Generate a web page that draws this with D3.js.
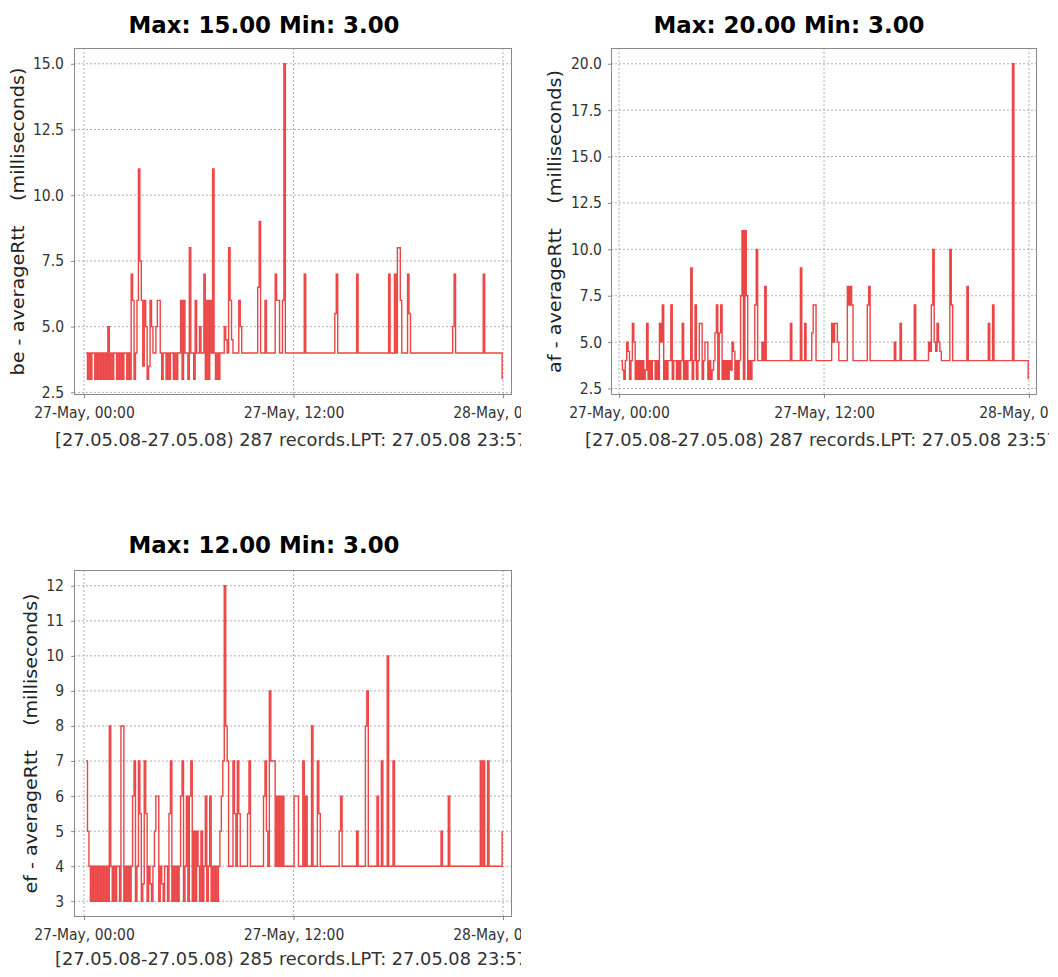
<!DOCTYPE html>
<html>
<head>
<meta charset="utf-8">
<script src="https://cdn.jsdelivr.net/npm/d3@7/dist/d3.min.js"></script>
<style>
  body { margin: 0; background: #ffffff; }
  .tick-label { font-family: "DejaVu Sans Condensed", "DejaVu Sans", sans-serif; font-stretch: condensed; font-size: 15.5px; fill: #333; }
</style>
</head>
<body>
<svg id="chart" width="1058" height="977"></svg>
<script>
// ---------------- DATA ----------------
// 5-minute samples on 27 May 2008, first sample at 00:07, last at 23:57
const seriesStart = "2008-05-27T00:07";
const sampleMinutes = 5;

// be - averageRtt (ms)
const beValues = [
  4,3,4,3,4,4,3,4,3,4,3,4,
  3,4,3,5,3,4,3,4,4,3,4,3,
  4,3,4,4,3,4,3,7,6,3,4,6,
  11,7.5,6,3.5,6,5,3,3.5,6,5,4,4,
  5,6,6,4,3,4,4,3,4,3,4,4,
  3,4,3,4,4,6,3,6,4,4,3,8,
  4,4,3,6,4,4,5,4,4,7,3,6,
  3,6,4,11,4,3,4,3,4,4,4,5,
  4.5,4,8,6,4.5,4,4,4,4,6,5,4,
  4,4,4,4,4,4,4,4,4,4,6.5,9,
  4,4,4,6,4,4,4,4,4,4,7,6,
  6,4,4,6,15,4,4,4,4,4,4,4,
  4,4,4,4,4,4,7,4,4,4,4,4,
  4,4,4,4,4,4,4,4,4,4,4,4,
  4,4,4,5.5,7,4,4,4,4,4,4,4,
  4,4,4,4,4,4,7,4,4,4,4,4,
  4,4,4,4,4,4,4,4,4,4,4,4,
  4,4,4,4,7,4,4,4,7,4,8,8,
  6,4,4,4,4,7,5.5,4,4,4,4,4,
  4,4,4,4,4,4,4,4,4,4,4,4,
  4,4,4,4,4,4,4,4,4,4,4,4,
  5,7,4,4,4,4,4,4,4,4,4,4,
  4,4,4,4,4,4,4,4,4,7,4,4,
  4,4,4,4,4,4,4,4,4,4,3
];

// af - averageRtt (ms)
const afValues = [
  4,3.5,3,4,5,4.5,3,4,6,5,3,4,
  3,4,3,4,3,3.5,6,3,4,3,4,4,
  3,4,3,6,5,7,3,4,3,4,4,7,
  3,4,4,3,4,3,4,6,3,4,3,4,
  4,9,3,4,7,3,4,6,6,3,4,5,
  5,3,4,3,3.5,4,5.5,7,3,5.5,7,3,
  4,3,4,3,4,3.5,5,4.5,3,4,3,4,
  7.5,11,3,11,7.5,3,4,3,4,4,7,10,
  4,4,4,5,4,8,4,4,4,4,4,4,
  4,4,4,4,4,4,4,4,4,4,4,6,
  4,4,4,4,4,4,9,4,4,6,4,4,
  4,4,5.5,7,7,4,4,4,4,4,4,4,
  4,4,4,4,6,5,6,6,5,4,4,4,
  4,4,4,8,7,8,7,4,4,4,4,4,
  4,4,4,4,4,7,8,4,4,4,4,4,
  4,4,4,4,4,4,4,4,4,4,4,4,
  5,4,4,4,6,4,4,4,4,4,4,4,
  4,4,7,4,4,4,4,4,4,4,4,4,
  5,4.5,7,10,5,4.5,6,5,4.5,4,4,4,
  4,4,4,10,7,4,4,4,4,4,4,4,
  4,4,4,8,4,4,4,4,4,4,4,4,
  4,4,4,4,4,4,6,4,4,7,4,4,
  4,4,4,4,4,4,4,4,4,4,4,20,
  4,4,4,4,4,4,4,4,4,4,3
];

// ef - averageRtt (ms)
const efValues = [
  7,5,4,3,4,3,4,3,4,3,4,3,
  4,3,4,3,8,4,3,4,3,4,4,3,
  8,8,3,4,3,4,3,4,6,7,3,4,
  7,5.5,3,3.5,7,5.5,3,4,3.5,3,4,5,
  6,6,3,4,3.5,3,4,4,3,5.5,7,3,
  4,3,4,3,4,6,7,3,4,6,3,6,
  7,3,5,3,5,4,3,5,3,4,6,3,
  4,6,3,4,3,4,3,4,5,6,7,12,
  8,7,4,4,4,7,5.5,4,7,5.5,4,4,
  4,4,4,5.5,7,4,4,4,4,4,4,4,
  4,4,6,7,5,4,9,7,7,7,4,6,
  4,6,4,6,4,4,4,4,4,4,4,6,
  6,6,4,4,4,7,4,6,4,4,4,8,
  4,4,4,7,5.5,4,4,4,4,4,4,4,
  4,4,4,4,4,4,5,6,4,4,4,4,
  4,4,4,4,4,4,5,4,4,4,4,4,
  8,9,4,4,4,4,4,4,6,4,4,7,
  4,4,4,10,4,4,4,7,4,4,4,4,
  4,4,4,4,4,4,4,4,4,4,4,4,
  4,4,4,4,4,4,4,4,4,4,4,4,
  4,4,4,4,5,4,4,4,4,6,4,4,
  4,4,4,4,4,4,4,4,4,4,4,4,
  4,4,4,4,4,4,4,7,4,7,4,4,
  7,4,4,4,4,4,4,4,4,4,5
];

const beTicks = [2.5, 5.0, 7.5, 10.0, 12.5, 15.0];
const afTicks = [2.5, 5.0, 7.5, 10.0, 12.5, 15.0, 17.5, 20.0];
const efTicks = [3, 4, 5, 6, 7, 8, 9, 10, 11, 12];
const xTickTimes = ["2008-05-27T00:00", "2008-05-27T12:00", "2008-05-28T00:00"];

const titles = ["Max: 15.00 Min: 3.00", "Max: 20.00 Min: 3.00", "Max: 12.00 Min: 3.00"];
const axisTitles = ["be - averageRtt    (milliseconds)", "af - averageRtt    (milliseconds)", "ef - averageRtt    (milliseconds)"];
const subtitles = [
  "[27.05.08-27.05.08) 287 records.LPT: 27.05.08 23:57",
  "[27.05.08-27.05.08) 287 records.LPT: 27.05.08 23:57",
  "[27.05.08-27.05.08) 285 records.LPT: 27.05.08 23:57"
];

// ---------------- DRAWING ----------------
const parseT = d3.timeParse("%Y-%m-%dT%H:%M");
const t0 = parseT(seriesStart);
const xTicks = xTickTimes.map(parseT);
const toPoints = vals => vals.map((v, i) => ({ t: d3.timeMinute.offset(t0, i * sampleMinutes), v }));

const panels = [
  { values: beValues, ticks: beTicks, fmt: d3.format(".1f"), title: titles[0], axisTitle: axisTitles[0], sub: subtitles[0],
    plot: { l: 74, t: 48, r: 512, b: 395 }, xr: [84, 503], yd: [2.4, 15.6],
    tickPad: 7, titleX: 264, titleY: 33, axisX: 24, axisLen: 308, subX: 55, subY: 446, clip: [0, 521] },
  { values: afValues, ticks: afTicks, fmt: d3.format(".1f"), title: titles[1], axisTitle: axisTitles[1], sub: subtitles[1],
    plot: { l: 611, t: 48, r: 1037, b: 395 }, xr: [619, 1029], yd: [2.15, 20.85],
    tickPad: 6, titleX: 789, titleY: 33, axisX: 561, axisLen: 303, subX: 585, subY: 446, clip: [530, 1049] },
  { values: efValues, ticks: efTicks, fmt: d3.format("d"), title: titles[2], axisTitle: axisTitles[2], sub: subtitles[2],
    plot: { l: 74, t: 570, r: 512, b: 917 }, xr: [84, 503], yd: [2.55, 12.45],
    tickPad: 7, titleX: 264, titleY: 553, axisX: 37, axisLen: 300, subX: 55, subY: 965, clip: [0, 521] }
];

const svg = d3.select("#chart");
const defs = svg.append("defs");
const lineColor = "#ec4545";
const gridColor = "#b0b0b0";
const frameColor = "#8a8a8a";

panels.forEach((p, k) => {
  const { l, t, r, b } = p.plot;
  const g = svg.append("g");

  defs.append("clipPath").attr("id", "panelClip" + k)
    .append("rect").attr("x", p.clip[0]).attr("y", 0).attr("width", p.clip[1] - p.clip[0]).attr("height", 977);
  defs.append("clipPath").attr("id", "plotClip" + k)
    .append("rect").attr("x", l).attr("y", t).attr("width", r - l).attr("height", b - t);

  const x = d3.scaleTime().domain([xTicks[0], xTicks[2]]).range(p.xr);
  const y = d3.scaleLinear().domain(p.yd).range([b, t]);

  // plot background
  g.append("rect").attr("x", l).attr("y", t).attr("width", r - l).attr("height", b - t).attr("fill", "#fff");

  // grid
  g.append("g").selectAll("line").data(p.ticks).join("line")
    .attr("x1", l).attr("x2", r).attr("y1", d => y(d)).attr("y2", d => y(d))
    .attr("stroke", gridColor).attr("stroke-width", 1).attr("stroke-dasharray", "2,2");
  g.append("g").selectAll("line").data(xTicks).join("line")
    .attr("y1", t).attr("y2", b).attr("x1", d => x(d)).attr("x2", d => x(d))
    .attr("stroke", gridColor).attr("stroke-width", 1).attr("stroke-dasharray", "2,2");

  // data line (step rendering)
  const line = d3.line().curve(d3.curveStepAfter).x(d => x(d.t)).y(d => y(d.v));
  g.append("path").datum(toPoints(p.values))
    .attr("clip-path", `url(#plotClip${k})`)
    .attr("d", line).attr("fill", "none").attr("stroke", lineColor)
    .attr("stroke-width", 1.4);

  // frame
  g.append("rect").attr("x", l + 0.5).attr("y", t + 0.5).attr("width", r - l - 1).attr("height", b - t - 1)
    .attr("fill", "none").attr("stroke", frameColor).attr("stroke-width", 1);

  // y axis
  const yAxis = g.append("g").attr("transform", `translate(${l},0)`)
    .call(d3.axisLeft(y).tickValues(p.ticks).tickFormat(p.fmt).tickSize(3).tickSizeOuter(0).tickPadding(p.tickPad));
  yAxis.select(".domain").remove();
  yAxis.selectAll(".tick line").attr("stroke", frameColor);
  yAxis.selectAll(".tick text").attr("class", "tick-label").attr("font-family", null).attr("font-size", null);

  // x axis
  const xAxis = g.append("g").attr("transform", `translate(0,${b})`).attr("clip-path", `url(#panelClip${k})`)
    .call(d3.axisBottom(x).tickValues(xTicks).tickFormat(d3.timeFormat("%d-%b, %H:%M")).tickSize(3).tickSizeOuter(0).tickPadding(9));
  xAxis.select(".domain").remove();
  xAxis.selectAll(".tick line").attr("stroke", frameColor);
  xAxis.selectAll(".tick text").attr("class", "tick-label").attr("font-family", null).attr("font-size", null);

  // title
  g.append("text").attr("x", p.titleX).attr("y", p.titleY).attr("text-anchor", "middle")
    .attr("font-family", "DejaVu Sans, sans-serif").attr("font-weight", "bold").attr("font-size", 23.5)
    .attr("textLength", 271).attr("lengthAdjust", "spacingAndGlyphs")
    .attr("fill", "#000").text(p.title);

  // y-axis title
  const cy = (t + b) / 2;
  g.append("text").attr("transform", `translate(${p.axisX},${cy}) rotate(-90)`).attr("text-anchor", "middle")
    .attr("font-family", "DejaVu Sans, sans-serif").attr("font-size", 17)
    .attr("textLength", p.axisLen).attr("lengthAdjust", "spacingAndGlyphs")
    .attr("fill", "#222").style("white-space", "pre").text(p.axisTitle);

  // subtitle
  g.append("text").attr("x", p.subX).attr("y", p.subY).attr("clip-path", `url(#panelClip${k})`)
    .attr("font-family", "DejaVu Sans, sans-serif").attr("font-size", 17.8)
    .attr("fill", "#333").text(p.sub);
});
</script>
</body>
</html>
